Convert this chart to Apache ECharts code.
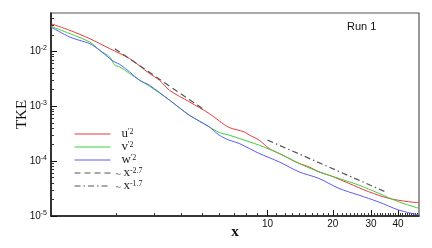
<!DOCTYPE html>
<html><head><meta charset="utf-8">
<script src="https://cdn.jsdelivr.net/npm/echarts@6/dist/echarts.min.js"></script>
<style>html,body{margin:0;padding:0;background:#fff}#c{width:432px;height:248px}</style>
</head><body><div id="c"></div>
<script>
// ---- data ----
const uX = [1.0, 1.223, 1.511, 1.868, 2.308, 2.853, 3.171, 3.525, 4.357, 5.38, 5.98, 6.65, 7.80, 8.22, 9.14, 10.16, 11.3, 12.56, 13.96, 15.52, 17.25, 19.18, 21.32, 23.7, 29.3, 36.2, 44.7, 50];
const uY = [0.0319, 0.0241, 0.0170, 0.0112, 0.00737, 0.00394, 0.00297, 0.00195, 0.00120, 0.000736, 0.00054, 0.00041, 0.000341, 0.00030, 0.000241, 0.00017, 0.000138, 0.000112, 0.0000908, 0.0000787, 0.0000638, 0.0000556, 0.0000470, 0.0000394, 0.0000277, 0.000021, 0.0000182, 0.0000175];
const vX = [1.0, 1.223, 1.511, 1.68, 1.868, 1.97, 2.076, 2.308, 2.566, 2.853, 3.525, 4.357, 5.38, 5.98, 6.65, 7.39, 9.14, 11.3, 13.96, 17.25, 21.32, 26.3, 32.6, 40.2, 50];
const vY = [0.0285, 0.0210, 0.01476, 0.01043, 0.00788, 0.00560, 0.00520, 0.00394, 0.00297, 0.00231, 0.00129, 0.000686, 0.00042, 0.000333, 0.000297, 0.000259, 0.000195, 0.000138, 0.0000908, 0.0000638, 0.0000484, 0.0000367, 0.0000259, 0.0000182, 0.0000138];
const wX = [1.0, 1.223, 1.36, 1.511, 1.68, 1.868, 1.97, 2.076, 2.308, 2.566, 2.853, 3.525, 4.357, 5.38, 5.98, 6.65, 7.39, 9.14, 11.3, 13.96, 17.25, 21.32, 26.3, 32.6, 40.2, 50];
const wY = [0.0277, 0.0182, 0.0158, 0.0138, 0.01043, 0.00737, 0.00640, 0.00580, 0.00421, 0.00297, 0.00241, 0.00129, 0.000686, 0.00042, 0.000297, 0.000241, 0.00021, 0.000138, 0.0000971, 0.0000638, 0.0000484, 0.0000319, 0.0000241, 0.000018, 0.0000129, 0.0000104];
const fit27X = [1.97, 5.0];
const fit27Y = [0.0112, 0.000908];
const fit17X = [10, 34.9];
const fit17Y = [0.000241, 0.0000277];

const xMajorTicks = [10, 20, 30, 40];
const xMinorTicks = [2,3,4,5,6,7,8,9,11,12,13,14,15,16,17,18,19,21,22,23,24,25,26,27,28,29,31,32,33,34,35,36,37,38,39,41,42,43,44,45,46,47,48,49];
const yMajorTicks = [1e-5, 1e-4, 1e-3, 1e-2];
const yMinorTicks = [2e-5,3e-5,4e-5,5e-5,6e-5,7e-5,8e-5,9e-5,2e-4,3e-4,4e-4,5e-4,6e-4,7e-4,8e-4,9e-4,2e-3,3e-3,4e-3,5e-3,6e-3,7e-3,8e-3,9e-3,2e-2,3e-2,4e-2];

const seriesNames = ["u'2", "v'2", "w'2", "x-2.7", "x-1.7"];
const seriesColors = ['#e8393b', '#3fcf3f', '#5b5bf5', '#555555', '#555555'];

function pairs(xs, ys) { return xs.map((x, i) => [x, ys[i]]); }

const chart = echarts.init(document.getElementById('c'), null, {renderer: 'canvas'});
const sans = 'Liberation Sans';
const serif = 'Liberation Serif';

const baseX = {
  type: 'log', logBase: 10, min: 1, max: 50, gridIndex: 0, position: 'bottom',
  splitLine: {show: false}, minorTick: {show: false}
};
const baseY = {
  type: 'log', logBase: 10, min: 1e-5, max: 0.05, gridIndex: 0, position: 'left',
  splitLine: {show: false}, minorTick: {show: false}
};

const legendRich = {
  p: {width: 6, lineHeight: 12},
  b: {fontFamily: serif, fontSize: 13, color: '#222', lineHeight: 12, verticalAlign: 'bottom'},
  s: {fontFamily: serif, fontSize: 8, color: '#222', lineHeight: 8, verticalAlign: 'top'},
  t: {fontFamily: serif, fontSize: 10, color: '#444', lineHeight: 12, verticalAlign: 'bottom'}
};
function legendFmt(name) {
  const base = name.charAt(0);
  const sup = name.slice(1);
  if (base === 'x') return '{t|~ }{b|x}{s|' + sup + '}';
  return '{p|}{b|' + base + '}{s|' + sup + '}';
}

chart.setOption({
  animation: false,
  backgroundColor: '#fff',
  grid: {left: 51, right: 13, top: 13, bottom: 32, show: true, borderColor: '#555', borderWidth: 1.2, backgroundColor: 'transparent'},
  title: {text: 'Run 1', left: 347, top: 21, padding: 0, textStyle: {fontFamily: sans, fontSize: 11, fontWeight: 'normal', color: '#111'}},
  legend: {
    data: seriesNames, orient: 'vertical', left: 74, top: 127, padding: 0,
    itemWidth: 36, itemHeight: 12, itemGap: 0,
    itemStyle: {opacity: 0},
    lineStyle: {width: 1},
    formatter: legendFmt,
    textStyle: {rich: legendRich}
  },
  xAxis: [
    Object.assign({}, baseX, {
      axisLine: {show: true, lineStyle: {color: '#111', width: 1.5}},
      axisTick: {show: true, inside: true, length: 3, customValues: xMinorTicks, lineStyle: {color: '#333'}},
      axisLabel: {show: false},
      name: 'x', nameLocation: 'middle', nameGap: 9,
      nameTextStyle: {fontFamily: serif, fontSize: 15, fontWeight: 'bold', color: '#111'}
    }),
    Object.assign({}, baseX, {
      axisLine: {show: false},
      axisTick: {show: true, inside: true, length: 6, customValues: xMajorTicks, lineStyle: {color: '#111'}},
      axisLabel: {show: true, customValues: xMajorTicks, margin: 3, fontFamily: sans, fontSize: 10, color: '#111'}
    })
  ],
  yAxis: [
    Object.assign({}, baseY, {
      axisLine: {show: true, lineStyle: {color: '#111', width: 1.5}},
      axisTick: {show: true, inside: true, length: 3, customValues: yMinorTicks, lineStyle: {color: '#333'}},
      axisLabel: {show: false},
      name: 'TKE', nameLocation: 'middle', nameGap: 21, nameRotate: 90,
      nameTextStyle: {fontFamily: serif, fontSize: 15, color: '#111'}
    }),
    Object.assign({}, baseY, {
      axisLine: {show: false},
      axisTick: {show: true, inside: true, length: 6, customValues: yMajorTicks, lineStyle: {color: '#111'}},
      axisLabel: {
        show: true, customValues: yMajorTicks, margin: 4,
        formatter: v => '{b|10}{s|' + Math.round(Math.log10(v)) + '}',
        rich: {
          b: {fontFamily: sans, fontSize: 10, color: '#111'},
          s: {fontFamily: sans, fontSize: 7, color: '#111', verticalAlign: 'top', padding: [0,0,6,0]}
        }
      }
    })
  ],
  series: [
    {name: seriesNames[0], type: 'line', data: pairs(uX, uY), color: seriesColors[0], symbol: 'none', smooth: 0.3, lineStyle: {width: 1, color: seriesColors[0]}},
    {name: seriesNames[1], type: 'line', data: pairs(vX, vY), color: seriesColors[1], symbol: 'none', smooth: 0.3, lineStyle: {width: 1, color: seriesColors[1]}},
    {name: seriesNames[2], type: 'line', data: pairs(wX, wY), color: seriesColors[2], symbol: 'none', smooth: 0.3, lineStyle: {width: 1, color: seriesColors[2]}},
    {name: seriesNames[3], type: 'line', data: pairs(fit27X, fit27Y), color: seriesColors[3], symbol: 'none', lineStyle: {width: 1.2, type: [6, 4], color: seriesColors[3]}},
    {name: seriesNames[4], type: 'line', data: pairs(fit17X, fit17Y), color: seriesColors[4], symbol: 'none', lineStyle: {width: 1.2, type: [6, 3, 1.5, 3], color: seriesColors[4]}}
  ]
});
</script></body></html>
